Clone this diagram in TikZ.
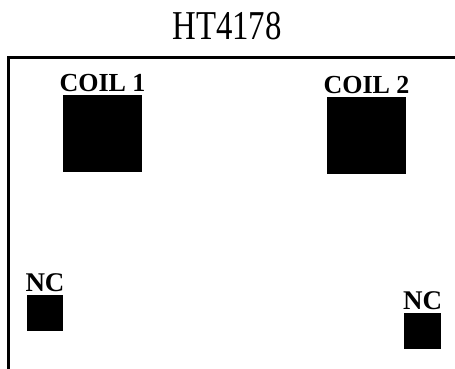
\documentclass[tikz,border=0pt]{standalone}
\usepackage{fontspec}
\setmainfont{Liberation Serif}
\usetikzlibrary{positioning}

\begin{document}
\begin{tikzpicture}[x=1pt, y=-1pt,
  pad/.style={rectangle, fill=black, draw=none, inner sep=0pt, minimum width=#1},
  padlabel/.style={inner sep=0pt, font=\fontsize{#1}{#1}\selectfont\bfseries},
  outline/.style={line width=2.8pt}]

\newcommand*{\padnode}[5]{\node [pad=#3, minimum height=#4] (#1) at #2 {};
  \node [padlabel=#5, above=3pt of #1] (#1title)}

\useasboundingbox (0,0) rectangle (455,369);

% TITLE

\node [inner sep=0pt, anchor=base] (chip) at (227,40)
  {\fontsize{41}{41}\selectfont\scalebox{0.8}[1]{HT4178}};

% BOARD EDGE

\coordinate (edgeleft) at (8.5,369);
\coordinate (edgeright) at (455,57.5);
\draw[outline] (edgeleft) |- (edgeright);

% PADS

\padnode{coilA}{(102.5,133.5)}{79pt}{77pt}{26}{COIL 1};
\padnode{coilB}{(366.5,135.5)}{79pt}{77pt}{26}{COIL 2};
\padnode{ncA}{(45,313)}{36pt}{36pt}{27}{NC};
\padnode{ncB}{(422.5,331)}{37pt}{36pt}{27}{NC};

\end{tikzpicture}
\end{document}
